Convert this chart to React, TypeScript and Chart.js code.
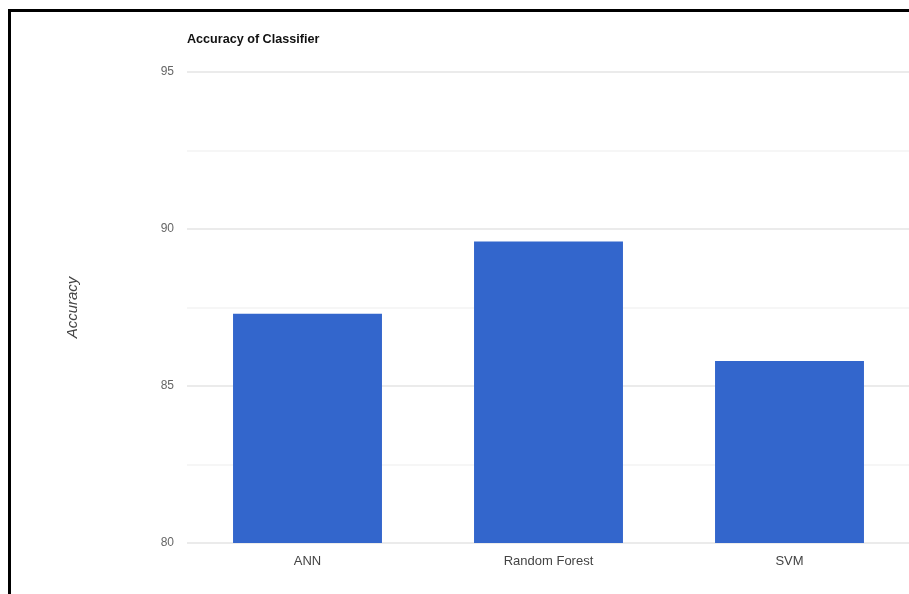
import React, { useEffect, useRef } from "react";
import { Chart, registerables } from "chart.js";

Chart.register(...registerables);

const chartTitle = "Accuracy of Classifier";
const yAxisTitle = "Accuracy";
const categories = ["ANN", "Random Forest", "SVM"];
const accuracyValues = [87.3, 89.6, 85.8];
const yMin = 80;
const yMax = 95;
const yStep = 2.5;

const FONT = "'Liberation Sans', Arial, sans-serif";

export default function App() {
  const canvasRef = useRef<HTMLCanvasElement | null>(null);

  useEffect(() => {
    document.body.style.margin = "0";
    const canvas = canvasRef.current;
    if (!canvas) return;

    const titlePlugin = {
      id: "leftTitle",
      afterDraw(chart: any) {
        const ctx = chart.ctx;
        ctx.save();
        ctx.font = `bold 12.6px ${FONT}`;
        ctx.fillStyle = "#111";
        ctx.textAlign = "left";
        ctx.textBaseline = "middle";
        ctx.fillText(chartTitle, chart.chartArea.left, 40);
        ctx.restore();
      },
    };

    const chart = new Chart(canvas, {
      type: "bar",
      data: {
        labels: categories,
        datasets: [
          {
            label: yAxisTitle,
            data: accuracyValues,
            backgroundColor: "#3366cc",
            borderWidth: 0,
            barPercentage: 0.618,
            categoryPercentage: 1,
          },
        ],
      },
      options: {
        animation: false,
        responsive: false,
        maintainAspectRatio: false,
        devicePixelRatio: 1,
        layout: { padding: { top: 72, left: 0, right: 3, bottom: 0 } },
        plugins: {
          legend: { display: false },
          title: { display: false },
          tooltip: { enabled: false },
        },
        scales: {
          x: {
            grid: { display: false, drawTicks: false },
            border: { display: false },
            ticks: {
              color: "#444",
              font: { family: FONT, size: 13 },
              padding: 11,
              maxRotation: 0,
            },
            afterFit(scale: any) {
              scale.height = 51;
            },
          },
          y: {
            min: yMin,
            max: yMax,
            border: { display: false },
            grid: {
              drawTicks: false,
              lineWidth: 2,
              color: (ctx: any) =>
                ctx.tick && ctx.tick.value % 5 === 0 ? "#ebebeb" : "#f6f6f6",
            },
            ticks: {
              stepSize: yStep,
              color: "#666",
              font: { family: FONT, size: 12 },
              padding: 13,
              callback: (v: any) => (Number(v) % 5 === 0 ? String(v) : ""),
            },
            title: {
              display: true,
              text: yAxisTitle,
              color: "#444",
              font: { family: FONT, size: 15, style: "italic" },
              padding: { top: 64, bottom: 0 },
            },
            afterFit(scale: any) {
              scale.width = 187;
            },
          },
        },
      },
      plugins: [titlePlugin],
    });

    return () => chart.destroy();
  }, []);

  return (
    <div
      style={{
        position: "fixed",
        left: 0,
        top: 0,
        width: 909,
        height: 594,
        overflow: "hidden",
        background: "#fff",
      }}
    >
      <canvas
        ref={canvasRef}
        width={913}
        height={594}
        style={{ position: "absolute", left: 0, top: 0, width: 913, height: 594 }}
      />
      <div
        style={{
          position: "absolute",
          left: 8,
          top: 9,
          width: 920,
          height: 600,
          borderLeft: "3px solid #000",
          borderTop: "3px solid #000",
          pointerEvents: "none",
        }}
      />
    </div>
  );
}
